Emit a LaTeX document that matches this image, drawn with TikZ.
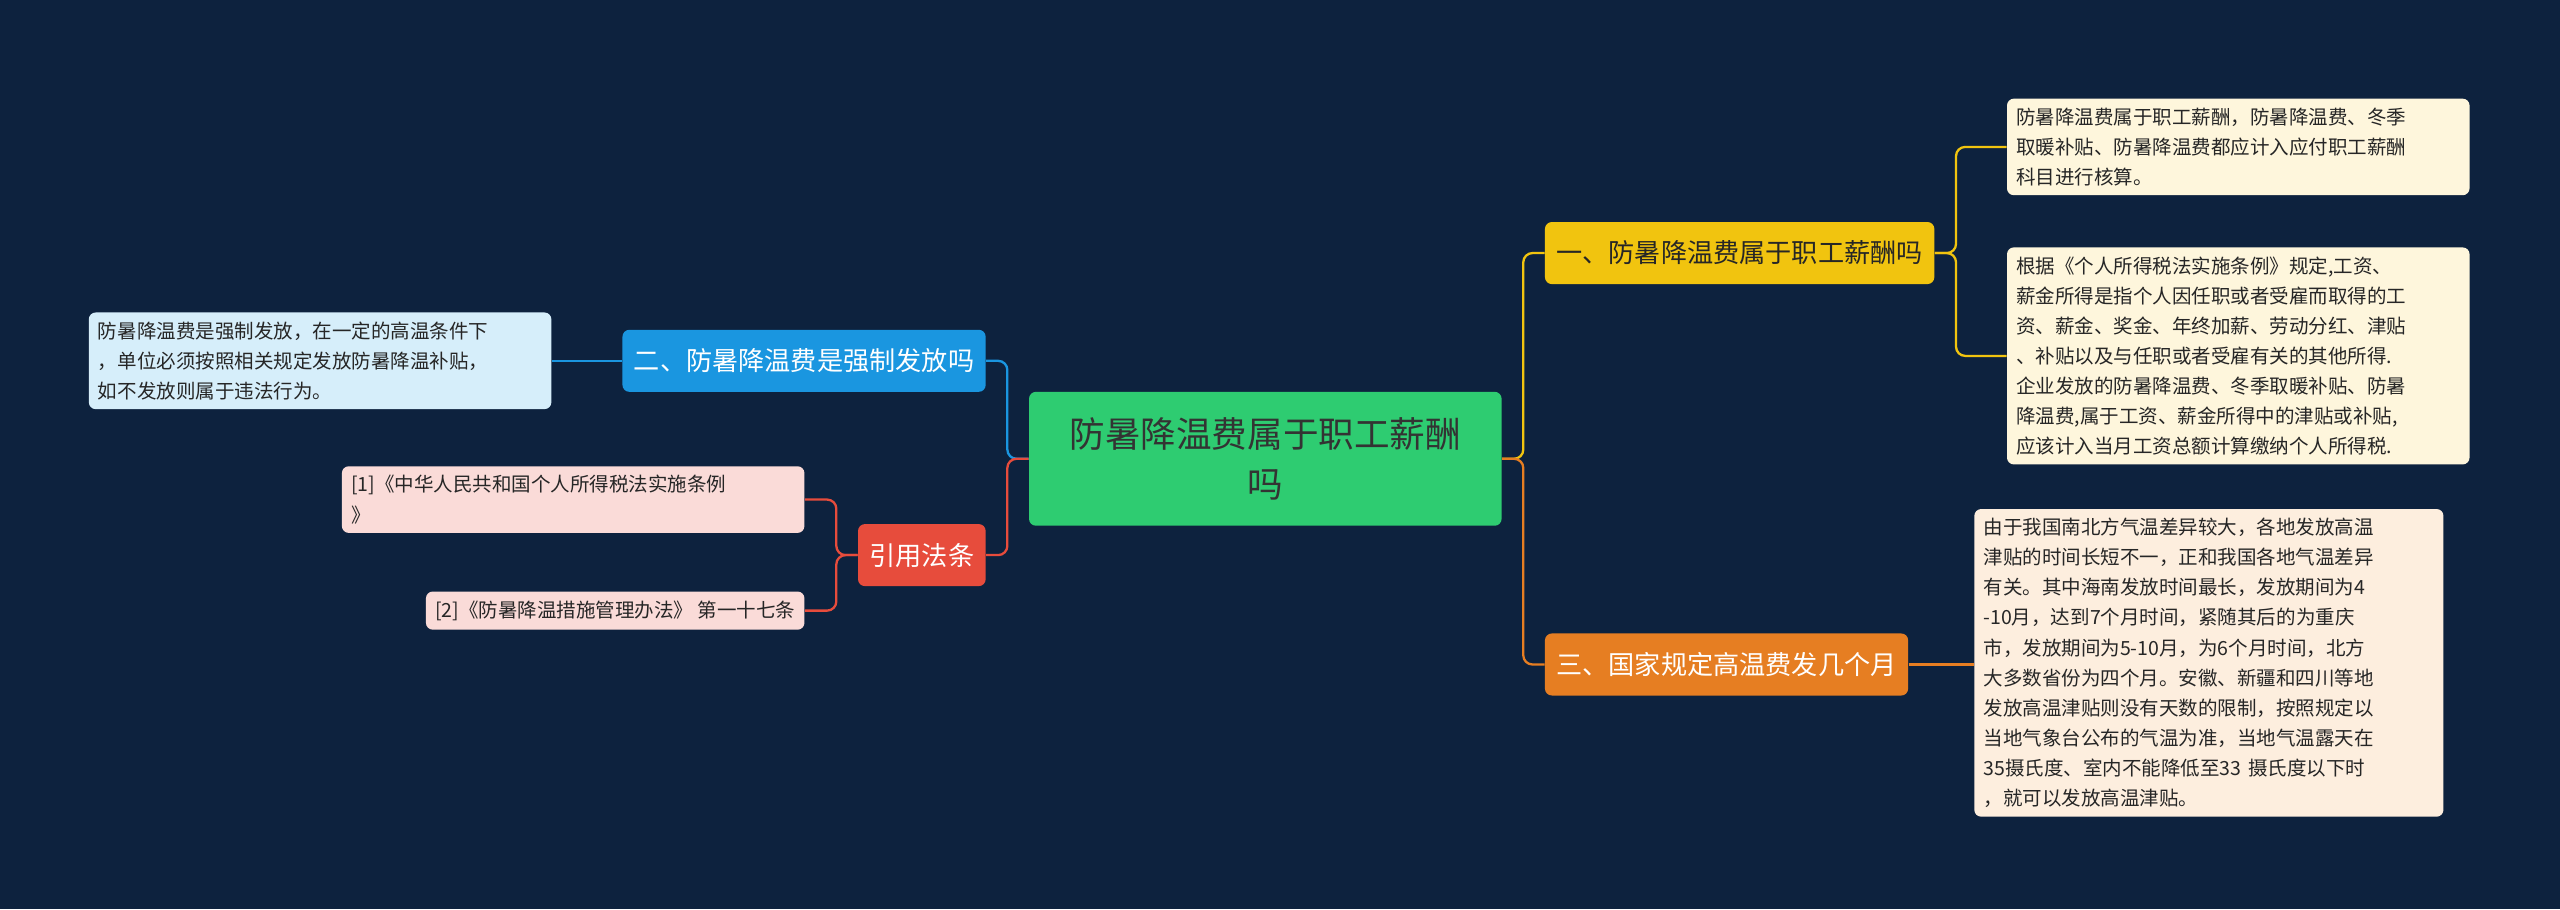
\documentclass[tikz,border=0pt]{standalone}
\usepackage{fontspec}
\setmainfont{Noto Sans CJK SC}
\definecolor{bgnavy}{RGB}{13,34,62}
\definecolor{mm_green}{RGB}{46,204,113}
\definecolor{mm_yellow}{RGB}{241,196,15}
\definecolor{mm_orange}{RGB}{230,126,34}
\definecolor{mm_blue}{RGB}{26,150,224}
\definecolor{mm_red}{RGB}{231,76,60}
\definecolor{lf_cream}{RGB}{254,246,220}
\definecolor{lf_peach}{RGB}{253,238,222}
\definecolor{lf_blue}{RGB}{214,238,250}
\definecolor{lf_pink}{RGB}{250,219,216}
\tikzset{
  rootnode/.style={rectangle,rounded corners=3pt,fill=mm_green,text=black!80,
    font=\fontsize{15.5}{22}\selectfont,align=center,text width=7cm,minimum height=2.05cm},
  branch/.style={rectangle,rounded corners=3pt,text=white,inner xsep=5pt,
    font=\fontsize{11.4}{14}\selectfont,minimum height=0.95cm},
  leaf/.style={rectangle,rounded corners=3pt,text=black!85,align=left,inner sep=4pt,
    font=\fontsize{8.5}{13.1}\selectfont},
  link/.style={line width=1pt,rounded corners=4pt}
}
\begin{document}
\begin{tikzpicture}[x=0.025cm,y=-0.025cm]
  \fill[bgnavy] (0,0) rectangle (1568,557);
  \node [style=rootnode] (root) at (775,281) {防暑降温费属于职工薪酬\\吗};
  \node [style=branch,fill=mm_yellow,text=black!85,anchor=west] (b1) at (946,155) {一、防暑降温费属于职工薪酬吗};
  \node [style=branch,fill=mm_orange,anchor=west] (b3) at (946,407) {三、国家规定高温费发几个月};
  \node [style=branch,fill=mm_blue,anchor=east] (b2) at (604,221) {二、防暑降温费是强制发放吗};
  \node [style=branch,fill=mm_red,anchor=east] (b4) at (604,340) {引用法条};
  \node [style=leaf,fill=lf_cream,anchor=west,text width=6.8cm] (l1a) at (1229,90)
    {防暑降温费属于职工薪酬，防暑降温费、冬季\\取暖补贴、防暑降温费都应计入应付职工薪酬\\科目进行核算。};
  \node [style=leaf,fill=lf_cream,anchor=west,text width=6.8cm] (l1b) at (1229,218)
    {根据《个人所得税法实施条例》规定,工资、\\薪金所得是指个人因任职或者受雇而取得的工\\资、薪金、奖金、年终加薪、劳动分红、津贴\\、补贴以及与任职或者受雇有关的其他所得.\\企业发放的防暑降温费、冬季取暖补贴、防暑\\降温费,属于工资、薪金所得中的津贴或补贴,\\应该计入当月工资总额计算缴纳个人所得税.};
  \node [style=leaf,fill=lf_peach,anchor=west,text width=6.9cm] (l3) at (1209,406)
    {由于我国南北方气温差异较大，各地发放高温\\津贴的时间长短不一，正和我国各地气温差异\\有关。其中海南发放时间最长，发放期间为4\\-10月，达到7个月时间，紧随其后的为重庆\\市，发放期间为5-10月，为6个月时间，北方\\大多数省份为四个月。安徽、新疆和四川等地\\发放高温津贴则没有天数的限制，按照规定以\\当地气象台公布的气温为准，当地气温露天在\\35摄氏度、室内不能降低至33 摄氏度以下时\\，就可以发放高温津贴。};
  \node [style=leaf,fill=lf_blue,anchor=east,text width=6.8cm] (l2) at (338,221)
    {防暑降温费是强制发放，在一定的高温条件下\\，单位必须按照相关规定发放防暑降温补贴，\\如不发放则属于违法行为。};
  \node [style=leaf,fill=lf_pink,anchor=east,text width=6.8cm] (l4a) at (493,306)
    {[1]《中华人民共和国个人所得税法实施条例\\》};
  \node [style=leaf,fill=lf_pink,anchor=east] (l4b) at (493,374)
    {[2]《防暑降温措施管理办法》 第一十七条};
  \draw [link,mm_yellow] (root.east) -- ++(13,0) |- (b1.west);
  \draw [link,mm_orange] (root.east) -- ++(13,0) |- (b3.west);
  \draw [link,mm_blue] (root.west) -- ++(-13,0) |- (b2.east);
  \draw [link,mm_red] (root.west) -- ++(-13,0) |- (b4.east);
  \draw [link,mm_yellow] (b1.east) -- ++(13,0) |- (l1a.west);
  \draw [link,mm_yellow] (b1.east) -- ++(13,0) |- (l1b.west);
  \draw [link,mm_orange] (b3.east) -- (l3.west |- b3.east);
  \draw [link,mm_blue] (b2.west) -- (l2.east);
  \draw [link,mm_red] (b4.west) -- ++(-13,0) |- (l4a.east);
  \draw [link,mm_red] (b4.west) -- ++(-13,0) |- (l4b.east);
\end{tikzpicture}
\end{document}
